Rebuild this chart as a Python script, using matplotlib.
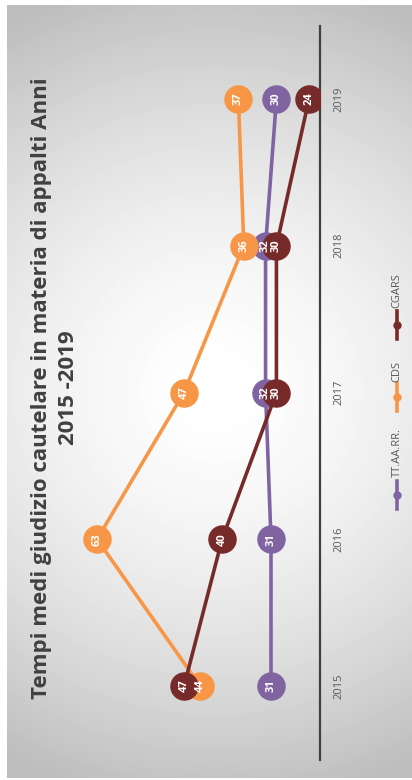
import numpy as np
import matplotlib
matplotlib.use("Agg")
import matplotlib.pyplot as plt
from matplotlib.lines import Line2D

# ---- data ----
years = ['2015', '2016', '2017', '2018', '2019']
series_names = ['TT.AA.RR.', 'CDS', 'CGARS']
tt_values = [31, 31, 32, 32, 30]
cds_values = [44, 63, 47, 36, 37]
cgars_values = [47, 40, 30, 30, 24]
colors = ['#8064A2', '#F79646', '#772A2A']
title = 'Tempi medi giudizio cautelare in materia di appalti Anni\n2015 -2019'

plt.rcParams['font.family'] = ['Open Sans', 'DejaVu Sans']

W, H = 412, 780
fig = plt.figure(figsize=(W / 100, H / 100), dpi=100)
fig.patch.set_facecolor('white')

def fx(x):
    return x / W

def fy(y):
    return 1 - y / H

# ---- background radial gradient ----
bx0, bx1, by0, by1 = 7, 412, 5, 778
bg = fig.add_axes([fx(bx0), fy(by1), (bx1 - bx0) / W, (by1 - by0) / H])
xx, yy = np.meshgrid(np.arange(bx0, bx1), np.arange(by0, by1))
r = np.sqrt(((xx - 215) / 430.0) ** 2 + ((yy - 390) / 420.0) ** 2)
val = 1 - 0.26 * np.clip(r, 0, 1) ** 1.6
bg.imshow(val, cmap='gray', vmin=0, vmax=1, aspect='auto', interpolation='bilinear')
bg.set_axis_off()

# ---- main axes (rotated chart: values horizontal, years vertical) ----
slope = 5.436          # px per unit
x_ref, v_ref = 271, 31
v_left, v_right = 70, 22
x_left = x_ref - (v_left - v_ref) * slope
x_right = x_ref - (v_right - v_ref) * slope
y_top, y_bot = 25.5, 759.5
ax = fig.add_axes([fx(x_left), fy(y_bot), (x_right - x_left) / W, (y_bot - y_top) / H])
ax.patch.set_alpha(0)
ax.set_xlim(v_left, v_right)
ax.set_ylim(-0.5, len(years) - 0.5)

ypos = np.arange(len(years))
all_vals = [tt_values, cds_values, cgars_values]
for i, (vals, c) in enumerate(zip(all_vals, colors)):
    ax.plot(vals, ypos, color=c, lw=2.6, marker='o', ms=19.5, mec=c, mfc=c,
            zorder=3 + i, solid_capstyle='round')
for vals in all_vals:
    for v, y in zip(vals, ypos):
        ax.text(v, y, str(v), rotation=90, ha='center', va='center', color='white',
                fontweight='bold', fontsize=8, zorder=10)

for s in ['top', 'bottom', 'left']:
    ax.spines[s].set_visible(False)
ax.spines['right'].set_color('#404040')
ax.spines['right'].set_linewidth(1.6)
ax.set_xticks([])
ax.yaxis.tick_right()
ax.set_yticks(ypos)
ax.set_yticklabels(years, rotation=90, va='center', color='#595959', fontsize=8)
ax.tick_params(axis='y', length=0, pad=10)

# ---- title ----
fig.text(fx(55), fy(388), title, rotation=90, ha='center', va='center',
         fontsize=16, fontweight='bold', color='#404040', linespacing=1.35,
         multialignment='center')

# ---- legend (drawn rotated) ----
leg_x = 397
leg_items = [(495, 477), (397, 382), (325, 308)]  # (marker centre y, text start y)
for (my, ty), name, c in zip(leg_items, series_names, colors):
    fig.add_artist(Line2D([fx(leg_x), fx(leg_x)], [fy(my + 14), fy(my - 14)],
                          transform=fig.transFigure, color=c, lw=2.6))
    fig.add_artist(Line2D([fx(leg_x)], [fy(my)], transform=fig.transFigure,
                          color=c, marker='o', ms=5, ls='none'))
    fig.text(fx(leg_x), fy(ty), name, rotation=90, ha='center', va='bottom',
             fontsize=8, color='#595959')

fig.savefig('out.png', dpi=100, facecolor=fig.get_facecolor())
